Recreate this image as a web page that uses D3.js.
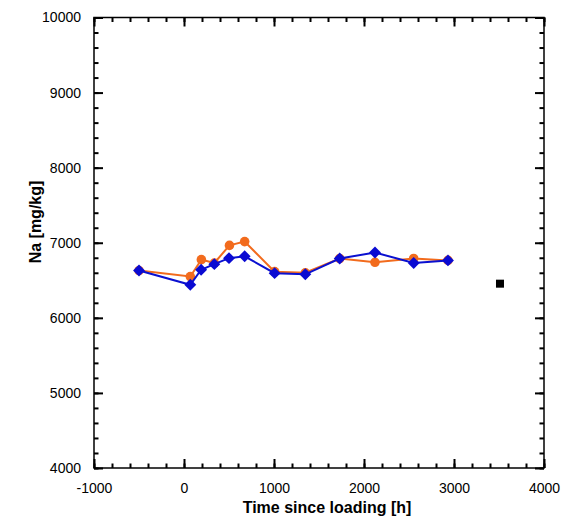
<!DOCTYPE html>
<html>
<head>
<meta charset="utf-8">
<script src="https://cdn.jsdelivr.net/npm/d3@7"></script>
<style>
  body { margin: 0; background: #fff; }
  svg { display: block; font-family: "Liberation Sans", Arial, Helvetica, sans-serif; }
</style>
</head>
<body>
<svg id="chart"></svg>
<script>
// data
var orangeTime = [-500, 70, 193, 337, 505, 674, 1007, 1348, 1730, 2122, 2552, 2933]
var orangeNa = [6630, 6550, 6775, 6730, 6965, 7015, 6615, 6600, 6790, 6740, 6790, 6765]
var blueTime = [-500, 70, 190, 337, 500, 674, 1007, 1348, 1730, 2122, 2552, 2933]
var blueNa = [6630, 6440, 6640, 6715, 6795, 6820, 6595, 6580, 6790, 6870, 6730, 6765]
var squareTime = [3511]
var squareNa = [6455]
var xTicks = [-1000, 0, 1000, 2000, 3000, 4000]
var yTicks = [4000, 5000, 6000, 7000, 8000, 9000, 10000]

var width = 563,
  height = 521
var margin = { top: 17.5, right: 19, bottom: 53, left: 94 }

var svg = d3.select("#chart")
  .attr("width", width)
  .attr("height", height)

var x = d3.scaleLinear()
  .domain([-1000, 4000])
  .range([margin.left, width - margin.right])

var y = d3.scaleLinear()
  .domain([4000, 10000])
  .range([height - margin.bottom, margin.top])

var xMinor = d3.range(-1000, 4001, 200)
var yMinor = d3.range(4000, 10001, 200)

// plain hyphen for negatives, as in the original
var fmt = function (d) { return String(d) }

/*
 * Frame and ticks (all pointing inward)
 */

function tickStyle(g) {
  g.select(".domain").remove()
  g.selectAll(".tick line").attr("stroke", "#000").attr("stroke-width", 2)
}

// bottom
svg.append("g")
  .attr("transform", "translate(0," + y.range()[0] + ")")
  .call(d3.axisBottom(x).tickValues(xMinor).tickSize(-4.5).tickFormat(""))
  .call(tickStyle)
svg.append("g")
  .attr("transform", "translate(0," + y.range()[0] + ")")
  .call(d3.axisBottom(x).tickValues(xTicks).tickSize(-9).tickPadding(15).tickFormat(fmt))
  .call(tickStyle)
  .selectAll("text")
  .attr("font-size", 14)
  .attr("fill", "#000")

// top
svg.append("g")
  .attr("transform", "translate(0," + y.range()[1] + ")")
  .call(d3.axisTop(x).tickValues(xMinor).tickSize(-4.5).tickFormat(""))
  .call(tickStyle)
svg.append("g")
  .attr("transform", "translate(0," + y.range()[1] + ")")
  .call(d3.axisTop(x).tickValues(xTicks).tickSize(-9).tickFormat(""))
  .call(tickStyle)

// left
svg.append("g")
  .attr("transform", "translate(" + x.range()[0] + ",0)")
  .call(d3.axisLeft(y).tickValues(yMinor).tickSize(-4.5).tickFormat(""))
  .call(tickStyle)
svg.append("g")
  .attr("transform", "translate(" + x.range()[0] + ",0)")
  .call(d3.axisLeft(y).tickValues(yTicks).tickSize(-9).tickPadding(13).tickFormat(fmt))
  .call(tickStyle)
  .selectAll("text")
  .attr("font-size", 14)
  .attr("fill", "#000")

// right
svg.append("g")
  .attr("transform", "translate(" + x.range()[1] + ",0)")
  .call(d3.axisRight(y).tickValues(yMinor).tickSize(-4.5).tickFormat(""))
  .call(tickStyle)
svg.append("g")
  .attr("transform", "translate(" + x.range()[1] + ",0)")
  .call(d3.axisRight(y).tickValues(yTicks).tickSize(-9).tickFormat(""))
  .call(tickStyle)

svg.append("rect")
  .attr("x", x.range()[0])
  .attr("y", y.range()[1])
  .attr("width", x.range()[1] - x.range()[0])
  .attr("height", y.range()[0] - y.range()[1])
  .attr("fill", "none")
  .attr("stroke", "#000")
  .attr("stroke-width", 1.5)

/*
 * Axis titles
 */

svg.append("text")
  .attr("x", 327)
  .attr("y", 513)
  .attr("text-anchor", "middle")
  .attr("font-size", 16)
  .attr("font-weight", "bold")
  .text("Time since loading [h]")

svg.append("text")
  .attr("transform", "translate(41,222) rotate(-90)")
  .attr("text-anchor", "middle")
  .attr("font-size", 16)
  .attr("font-weight", "bold")
  .text("Na [mg/kg]")

/*
 * Series
 */

var orange = orangeTime.map(function (t, i) { return [t, orangeNa[i]] })
var blue = blueTime.map(function (t, i) { return [t, blueNa[i]] })
var squares = squareTime.map(function (t, i) { return [t, squareNa[i]] })

var line = d3.line()
  .x(function (d) { return x(d[0]) })
  .y(function (d) { return y(d[1]) })

svg.append("path")
  .datum(orange)
  .attr("d", line)
  .attr("fill", "none")
  .attr("stroke", "#f26b1d")
  .attr("stroke-width", 2)

svg.selectAll("circle.orange")
  .data(orange)
  .enter()
  .append("circle")
  .attr("class", "orange")
  .attr("cx", function (d) { return x(d[0]) })
  .attr("cy", function (d) { return y(d[1]) })
  .attr("r", 4.8)
  .style("fill", "#f26b1d")

svg.append("path")
  .datum(blue)
  .attr("d", line)
  .attr("fill", "none")
  .attr("stroke", "#0a10d0")
  .attr("stroke-width", 2)

svg.selectAll("path.diamond")
  .data(blue)
  .enter()
  .append("path")
  .attr("class", "diamond")
  .attr("d", d3.symbol().type(d3.symbolDiamond2).size(90))
  .attr("transform", function (d) { return "translate(" + x(d[0]) + "," + y(d[1]) + ")" })
  .style("fill", "#0a0ad2")

svg.selectAll("rect.square")
  .data(squares)
  .enter()
  .append("rect")
  .attr("class", "square")
  .attr("x", function (d) { return x(d[0]) - 4 })
  .attr("y", function (d) { return y(d[1]) - 4 })
  .attr("width", 8)
  .attr("height", 8)
  .style("fill", "#000")
</script>
</body>
</html>
